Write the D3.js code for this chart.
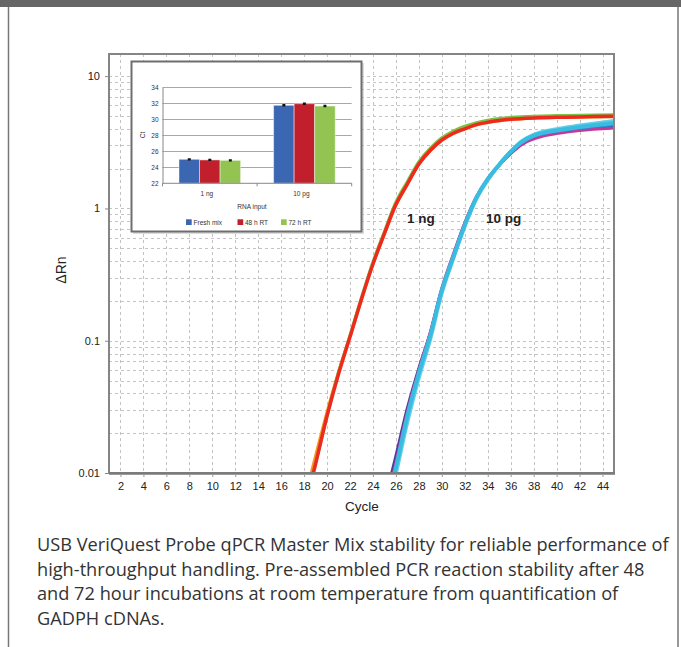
<!DOCTYPE html>
<html lang="en">
<head>
	<meta charset="utf-8">
	<script src="https://cdn.jsdelivr.net/npm/d3@7"></script>
	<style>
		body { margin: 0; background: #fff; }
	</style>
</head>
<body>
<div id="chart"></div>

<script type="text/javascript">
    "use strict";

    // ---- amplification curves (main plot) ----
    var ngCycles = [17, 18, 19, 20, 21, 22, 23, 24, 25, 26, 27, 28, 29, 30, 31, 32, 33, 34, 35, 36, 38, 40, 42, 45];
    var ngOrange = [0.0028, 0.0062, 0.0135, 0.029, 0.058, 0.108, 0.205, 0.38, 0.64, 1.06, 1.52, 2.15, 2.73, 3.27, 3.68, 3.99, 4.27, 4.46, 4.6, 4.7, 4.8, 4.86, 4.9, 4.94];
    var ngGreen  = [0.0024, 0.0053, 0.0118, 0.027, 0.058, 0.11, 0.213, 0.395, 0.67, 1.12, 1.6, 2.26, 2.86, 3.42, 3.85, 4.18, 4.45, 4.65, 4.79, 4.88, 4.98, 5.03, 5.07, 5.1];
    var ngRed    = [0.0023, 0.0052, 0.0117, 0.027, 0.056, 0.107, 0.206, 0.38, 0.647, 1.07, 1.53, 2.17, 2.75, 3.29, 3.7, 4.0, 4.3, 4.48, 4.62, 4.72, 4.82, 4.88, 4.92, 4.97];

    var pgCycles = [24, 25, 26, 27, 28, 29, 30, 31, 32, 33, 34, 35, 36, 37, 38, 39, 40, 42, 45];
    var pgPurple  = [0.0027, 0.006, 0.0135, 0.031, 0.062, 0.115, 0.245, 0.44, 0.77, 1.2, 1.66, 2.12, 2.62, 3.1, 3.42, 3.63, 3.78, 4.0, 4.2];
    var pgMagenta = [0.0024, 0.0054, 0.012, 0.029, 0.06, 0.116, 0.25, 0.45, 0.78, 1.22, 1.68, 2.14, 2.6, 3.05, 3.35, 3.55, 3.68, 3.88, 4.05];
    var pgBlue    = [0.0021, 0.0047, 0.0105, 0.026, 0.055, 0.107, 0.235, 0.42, 0.74, 1.18, 1.64, 2.12, 2.64, 3.15, 3.5, 3.7, 3.84, 4.06, 4.3];
    var pgCyan2   = [0.0019, 0.0043, 0.0098, 0.024, 0.052, 0.102, 0.228, 0.415, 0.73, 1.17, 1.63, 2.13, 2.7, 3.25, 3.62, 3.85, 3.98, 4.25, 4.6];
    var pgCyan    = [0.0022, 0.005, 0.011, 0.027, 0.057, 0.11, 0.24, 0.43, 0.75, 1.2, 1.67, 2.15, 2.68, 3.2, 3.55, 3.75, 3.88, 4.12, 4.42];

    var xTicks = d3.range(2, 46, 2);
    var yTicks = [0.01, 0.1, 1, 10];

    // ---- inset bar chart ----
    var insetGroups = ["1 ng", "10 pg"];
    var insetSeries = ["Fresh mix", "48 h RT", "72 h RT"];
    var insetColors = ["#3b66b1", "#c01f2b", "#93c452"];
    var ctFresh = [25.0, 31.75];
    var ct48 = [24.92, 31.95];
    var ct72 = [24.87, 31.66];
    var ctErr = [0.06, 0.07];
    var insetTicks = [22, 24, 26, 28, 30, 32, 34];

    var caption = [
      "USB VeriQuest Probe qPCR Master Mix stability for reliable performance of",
      "high-throughput handling. Pre-assembled PCR reaction stability after 48",
      "and 72 hour incubations at room temperature from quantification of",
      "GADPH cDNAs."
    ];

    var FONT = "'Liberation Sans', Arial, sans-serif";
    var W = 681, H = 647;
    var svg = d3.select("#chart").append("svg").attr("width", W).attr("height", H)
      .style("font-family", FONT);

    // outer frame
    svg.append("rect").attr("x", 0).attr("y", 0).attr("width", W).attr("height", 7).attr("fill", "#666");
    svg.append("line").attr("x1", 8.5).attr("x2", 8.5).attr("y1", 7).attr("y2", H).attr("stroke", "#777").attr("stroke-width", 1.5);
    svg.append("line").attr("x1", 678).attr("x2", 678).attr("y1", 7).attr("y2", H).attr("stroke", "#777").attr("stroke-width", 1.5);

    // ---- main plot ----
    var L = 109, R = 614, T = 54, B = 473;
    var x = d3.scaleLinear().domain([1, 45]).range([L, R]);
    var y = d3.scaleLog().domain([0.01, 14.7]).range([B, T]);

    var grid = svg.append("g").attr("stroke", "#c4c4c4").attr("stroke-width", 1).attr("stroke-dasharray", "3,3");
    grid.selectAll(".vg").data(xTicks).join("line")
      .attr("x1", d => Math.round(x(d)) + 0.5).attr("x2", d => Math.round(x(d)) + 0.5)
      .attr("y1", T).attr("y2", B);
    grid.selectAll(".hg").data(y.ticks().filter(d => d > 0.01 && d < 14.7)).join("line")
      .attr("x1", L).attr("x2", R)
      .attr("y1", d => Math.round(y(d)) + 0.5).attr("y2", d => Math.round(y(d)) + 0.5);

    svg.append("clipPath").attr("id", "plotclip").append("rect")
      .attr("x", L).attr("y", T).attr("width", R - L).attr("height", B - T);

    var line = d3.line().curve(d3.curveCatmullRom.alpha(0.5));
    function drawCurve(cycles, vals, color, width) {
      svg.append("path")
        .attr("clip-path", "url(#plotclip)")
        .attr("d", line(cycles.map((c, i) => [x(c), y(vals[i])])))
        .attr("fill", "none").attr("stroke", color).attr("stroke-width", width)
        .attr("stroke-linejoin", "round");
    }

    drawCurve(ngCycles, ngOrange, "#f39a1e", 3);
    drawCurve(ngCycles, ngGreen, "#7cc243", 3);
    drawCurve(ngCycles, ngRed, "#ee2a1f", 3.5);
    drawCurve(pgCycles, pgPurple, "#4d3b9b", 3);
    drawCurve(pgCycles, pgMagenta, "#c2399c", 3);
    drawCurve(pgCycles, pgBlue, "#2f8fd3", 3);
    drawCurve(pgCycles, pgCyan2, "#62cfea", 3.5);
    drawCurve(pgCycles, pgCyan, "#38bde0", 4);

    // plot frame
    svg.append("rect").attr("x", L).attr("y", T).attr("width", R - L).attr("height", B - T)
      .attr("fill", "none").attr("stroke", "#858585").attr("stroke-width", 2);
    svg.append("line").attr("x1", L).attr("x2", R + 1).attr("y1", B + 0.5).attr("y2", B + 0.5)
      .attr("stroke", "#7a7a7a").attr("stroke-width", 2.5);

    var xAxis = svg.append("g").attr("transform", "translate(0," + (B + 1) + ")")
      .call(d3.axisBottom(x).tickValues(xTicks).tickSize(3).tickSizeOuter(0));
    xAxis.select(".domain").remove();
    xAxis.selectAll("line").attr("stroke", "#999");
    xAxis.selectAll("text").attr("font-size", 11).attr("fill", "#222").attr("dy", "0.95em")
      .style("font-family", FONT);

    var yAxis = svg.append("g").attr("transform", "translate(" + L + ",0)")
      .call(d3.axisLeft(y).tickValues(yTicks).tickSize(4).tickSizeOuter(0).tickFormat(d => String(d)));
    yAxis.select(".domain").remove();
    yAxis.selectAll("line").attr("stroke", "#888");
    yAxis.selectAll("text").attr("font-size", 11).attr("fill", "#222").attr("x", -9)
      .style("font-family", FONT);

    svg.append("text").attr("x", 362).attr("y", 511).attr("text-anchor", "middle")
      .attr("font-size", 13.5).attr("fill", "#222").text("Cycle");
    svg.append("text").attr("transform", "translate(66,270) rotate(-90)").attr("text-anchor", "middle")
      .attr("font-size", 14).attr("fill", "#222").text("\u0394Rn");

    svg.append("text").attr("x", 407).attr("y", 223).attr("font-size", 13.5).attr("font-weight", "bold")
      .attr("fill", "#222").text("1 ng");
    svg.append("text").attr("x", 486).attr("y", 223).attr("font-size", 13.5).attr("font-weight", "bold")
      .attr("fill", "#222").text("10 pg");

    // ---- inset ----
    svg.append("rect").attr("x", 133).attr("y", 63).attr("width", 231).attr("height", 171)
      .attr("fill", "#bbb").attr("opacity", 0.5);
    svg.append("rect").attr("x", 131.5).attr("y", 61.5).attr("width", 230).attr("height", 170)
      .attr("fill", "#fff").attr("stroke", "#6e6e6e").attr("stroke-width", 2);

    var iL = 162.5, iR = 351.7, iT = 87.3, iB = 183.3;
    var yi = d3.scaleLinear().domain([22, 34]).range([iB, iT]);
    var x0 = d3.scaleBand().domain(insetGroups).range([iL, iR]);
    var x1 = d3.scaleBand().domain(insetSeries).range([16.5, x0.bandwidth() - 16.5]);

    svg.append("g").selectAll("line").data(insetTicks.slice(1)).join("line")
      .attr("x1", iL).attr("x2", iR)
      .attr("y1", d => Math.round(yi(d)) + 0.5).attr("y2", d => Math.round(yi(d)) + 0.5)
      .attr("stroke", "#a8a8a8").attr("stroke-width", 1);

    var ctSets = [ctFresh, ct48, ct72];
    insetSeries.forEach(function(s, si) {
      svg.append("g").selectAll("rect").data(insetGroups).join("rect")
        .attr("x", (g) => x0(g) + x1(s))
        .attr("y", (g, gi) => yi(ctSets[si][gi]))
        .attr("width", x1.bandwidth())
        .attr("height", (g, gi) => iB - yi(ctSets[si][gi]))
        .attr("fill", insetColors[si])
        .attr("stroke", "#ffffff").attr("stroke-opacity", 0.45).attr("stroke-width", 1);
      svg.append("g").selectAll("path").data(insetGroups).join("path")
        .attr("d", function(g, gi) {
          var cx = x0(g) + x1(s) + x1.bandwidth() / 2;
          var v = ctSets[si][gi], e = ctErr[gi];
          return "M" + (cx - 1.5) + "," + yi(v + e) + "H" + (cx + 1.5) +
                 "M" + cx + "," + yi(v + e) + "V" + yi(v - e) +
                 "M" + (cx - 1.5) + "," + yi(v - e) + "H" + (cx + 1.5);
        })
        .attr("stroke", "#111").attr("stroke-width", 1.3).attr("fill", "none");
    });

    var iyAxis = svg.append("g").attr("transform", "translate(" + iL + ",0)")
      .call(d3.axisLeft(yi).tickValues(insetTicks).tickSize(0).tickPadding(4));
    iyAxis.select(".domain").attr("stroke", "#888");
    iyAxis.selectAll("text").attr("font-size", 6.5).attr("fill", "#333").style("font-family", FONT);

    var ixAxis = svg.append("g").attr("transform", "translate(0," + iB + ")");
    ixAxis.append("line").attr("x1", iL).attr("x2", iR).attr("stroke", "#888");
    ixAxis.selectAll(".tk").data([iL, iL + x0.bandwidth(), iR]).join("line")
      .attr("x1", d => d).attr("x2", d => d).attr("y1", 0).attr("y2", 3).attr("stroke", "#888");
    ixAxis.selectAll("text").data(insetGroups).join("text")
      .attr("x", d => x0(d) + x0.bandwidth() / 2 - 3).attr("y", 13)
      .attr("text-anchor", "middle").attr("font-size", 6.5).attr("fill", "#333").text(d => d);

    svg.append("text").attr("x", 252).attr("y", 209).attr("text-anchor", "middle")
      .attr("font-size", 6.5).attr("fill", "#333").text("RNA input");
    svg.append("text").attr("transform", "translate(145,135) rotate(-90)").attr("text-anchor", "middle")
      .attr("font-size", 6.5).attr("fill", "#333").text("Ct");

    var legX = [186, 237.5, 281];
    insetSeries.forEach(function(s, si) {
      svg.append("rect").attr("x", legX[si]).attr("y", 219.3).attr("width", 5.7).attr("height", 5.7)
        .attr("fill", insetColors[si]);
      svg.append("text").attr("x", legX[si] + 7.5).attr("y", 224.5)
        .attr("font-size", 6.5).attr("fill", "#333").text(s);
    });

    // ---- caption ----
    svg.append("g").selectAll("text").data(caption).join("text")
      .attr("x", 37).attr("y", (d, i) => 551 + i * 24.5)
      .style("font-family", "'Open Sans', sans-serif").attr("font-size", 18.2)
      .attr("fill", "#333").text(d => d);
</script>

</body>
</html>
